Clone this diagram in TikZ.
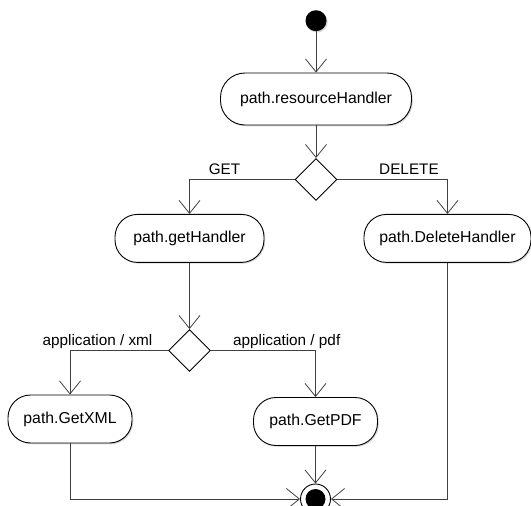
\documentclass[tikz,border=0pt]{standalone}
\usepackage{fontspec}
\setmainfont{Liberation Sans}
\usetikzlibrary{arrows.meta,shapes.geometric,shadows}

\begin{document}
\begin{tikzpicture}[x=1pt,y=-1pt,
  every node/.style={font=\fontsize{15.8}{18}\selectfont},
  act/.style={draw=black, line width=0.9pt, fill=white, rounded corners=22.5pt,
    minimum height=48pt, inner sep=0pt,
    drop shadow={shadow xshift=1.3pt, shadow yshift=-1.3pt, opacity=0.3}},
  decision/.style={draw=black, line width=0.9pt, fill=white, diamond, aspect=1,
    minimum width=42pt, minimum height=42pt, inner sep=0pt},
  flow/.style={draw=black!75, line width=0.8pt,
    -{Straight Barb[length=13pt,width=21pt,line width=0.8pt]}},
  lbl/.style={anchor=base, inner sep=0pt, font=\fontsize{15.3}{18}\selectfont}]
\useasboundingbox (0,0) rectangle (531,506);

% initial and final states
\node[circle, fill=black, minimum size=21pt, inner sep=0pt,
  drop shadow={shadow xshift=1.3pt, shadow yshift=-1.3pt, opacity=0.3}] (start) at (316,20.7) {};
\node[circle, draw=black, line width=0.9pt, fill=white, minimum size=30pt, inner sep=0pt] (fin) at (315.5,499) {};
\fill[black] (fin.center) circle (10pt);

% actions
\node[act, minimum width=191pt, minimum height=52pt, rounded corners=24.5pt] (rh) at (316,99) {path.resourceHandler};
\node[decision] (d1) at (316,179.5) {};
\node[act, minimum width=149pt] (gh) at (189.5,238.4) {path.getHandler};
\node[act, minimum width=167pt] (dh) at (447.5,238.4) {path.DeleteHandler};
\node[decision] (d2) at (189.5,350.5) {};
\node[act, minimum width=124pt] (gx) at (70,419) {path.GetXML};
\node[act, minimum width=124pt] (gp) at (315.5,421.5) {path.GetPDF};

% flows
\draw[flow] (start) -- (rh);
\draw[flow] (rh) -- (d1);
\draw[flow] (d1.west) -| (gh);
\draw[flow] (d1.east) -| (dh);
\draw[flow] (gh) -- (d2);
\draw[flow] (d2.west) -| (gx);
\draw[flow] (d2.east) -| (gp);
\draw[flow] (gp) -- (fin);
\draw[flow] (gx) |- (fin);
\draw[flow] (dh) |- (fin);

% guards
\node[lbl] at (224.5,174.5) {GET};
\node[lbl] at (409,174.5) {DELETE};
\node[lbl] at (97.5,345.5) {application / xml};
\node[lbl] at (286.7,345.5) {application / pdf};
\end{tikzpicture}
\end{document}
